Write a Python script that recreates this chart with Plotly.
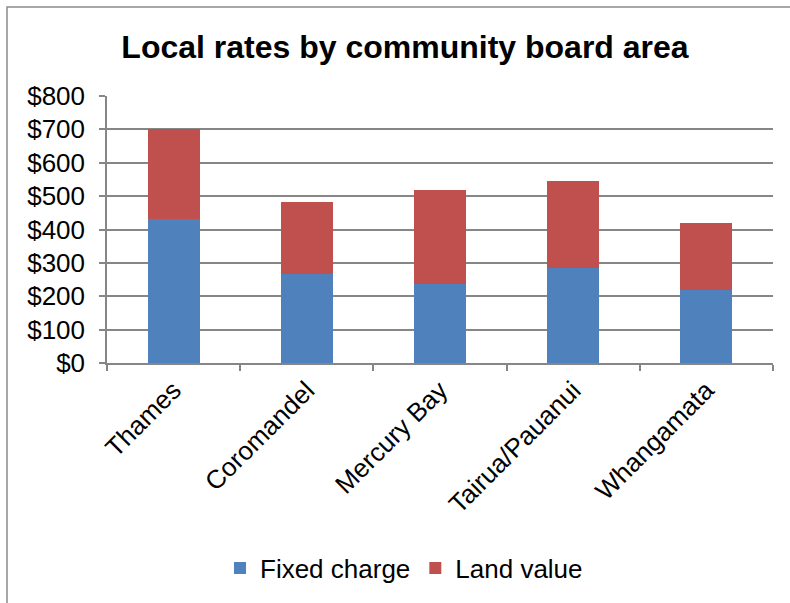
import plotly.graph_objects as go

categories = ["Thames", "Coromandel", "Mercury Bay", "Tairua/Pauanui", "Whangamata"]
fixed_charge = [430, 267, 236, 284, 218]
land_value = [270, 215, 281, 260, 202]
tick_vals = [0, 100, 200, 300, 400, 500, 600, 700, 800]
tick_text = ["$0", "$100", "$200", "$300", "$400", "$500", "$600", "$700", "$800"]

FONT = "Liberation Sans, Arial, sans-serif"
GRID = "#868686"

fig = go.Figure()
fig.add_trace(go.Bar(name="Fixed charge", x=categories, y=fixed_charge,
                     marker=dict(color="#4F81BD", line=dict(width=0))))
fig.add_trace(go.Bar(name="Land value", x=categories, y=land_value,
                     marker=dict(color="#C0504D", line=dict(width=0))))

L, R, T, B = 107, 17, 96, 240
W, H = 790, 603
pw, ph = W - L - R, H - T - B

fig.update_layout(
    width=W, height=H,
    barmode="stack", bargap=0.61,
    margin=dict(l=L, r=R, t=T, b=B, pad=0),
    paper_bgcolor="white", plot_bgcolor="white",
    font=dict(family=FONT, size=26, color="black"),
    title=dict(text="<b>Local rates by community board area</b>",
               font=dict(family=FONT, size=32, color="black"),
               x=405 / W, xanchor="center", xref="container",
               y=1 - 47 / H, yanchor="middle", yref="container"),
    xaxis=dict(showline=True, linecolor=GRID, linewidth=1.5,
               ticks="outside", tickson="boundaries", ticklen=6,
               tickcolor=GRID, tickwidth=1.5, tickangle=-45,
               tickfont=dict(size=26), showgrid=False),
    yaxis=dict(range=[0, 800], tickvals=tick_vals, ticktext=tick_text,
               showline=True, linecolor=GRID, linewidth=1.5,
               ticks="outside", ticklen=6, tickcolor=GRID, tickwidth=1.5,
               ticklabelstandoff=9,
               showgrid=True, gridcolor=GRID, gridwidth=1.5,
               zeroline=False, tickfont=dict(size=26)),
    legend=dict(orientation="h", x=(404 - L) / pw, xanchor="center",
                y=-(568 - (H - B)) / ph, yanchor="middle",
                font=dict(size=26), traceorder="normal",
                itemwidth=30, bgcolor="rgba(0,0,0,0)"),
    showlegend=True,
)

# outer chart frame
fig.add_shape(type="rect", xref="paper", yref="paper",
              x0=(7 - L) / pw, x1=(W + 10 - L) / pw,
              y0=-(B + 10) / ph, y1=1 + (T - 7) / ph,
              line=dict(color="#8C8C8C", width=1.5), layer="below")

fig.write_html("out.html")
